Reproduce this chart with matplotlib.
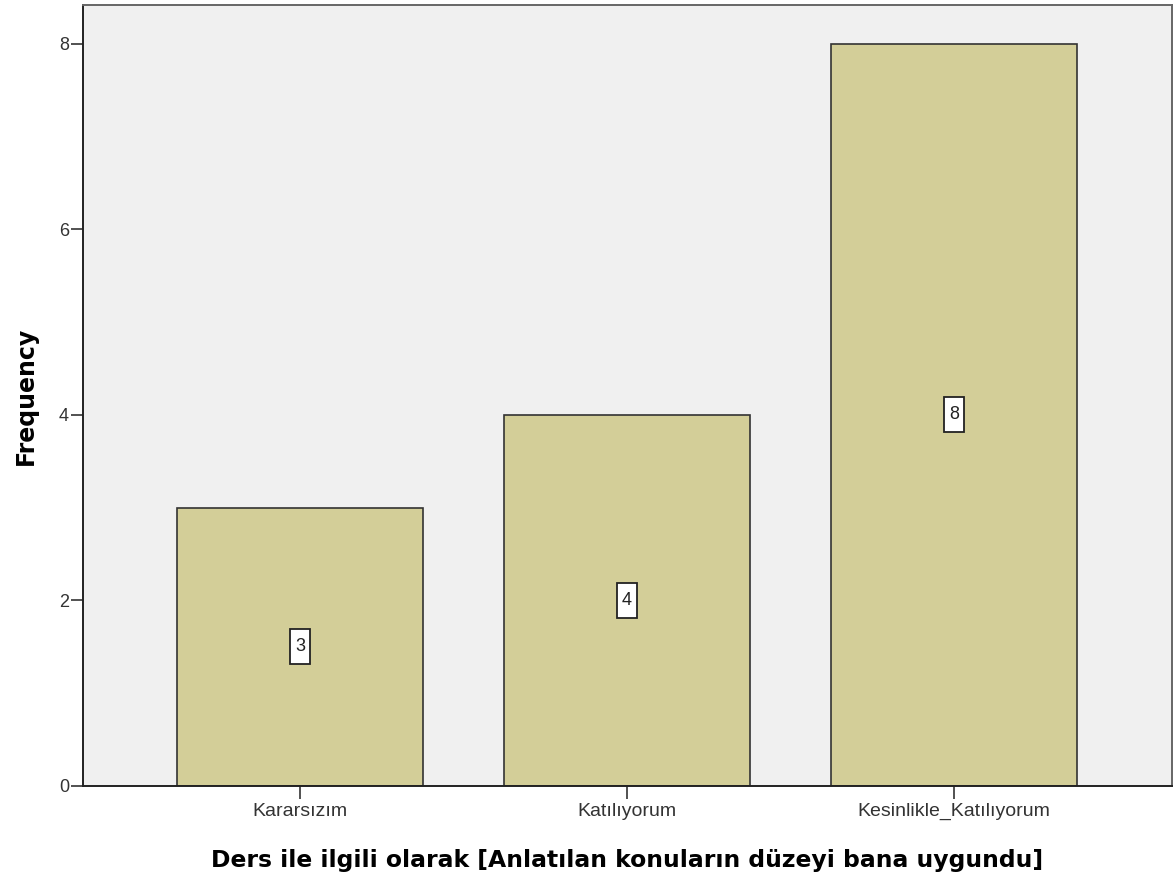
import matplotlib.pyplot as plt
from matplotlib.patches import Rectangle
from matplotlib.transforms import ScaledTranslation

categories = ["Kararsızım", "Katılıyorum", "Kesinlikle_Katılıyorum"]
counts = [3, 4, 8]
yticks = [0, 2, 4, 6, 8]

fig = plt.figure(figsize=(11.74, 8.83), dpi=100)
ax = fig.add_axes([0.0707, 0.1099, 0.9276, 0.8844])
ax.set_facecolor("#f0f0f0")

x = list(range(len(categories)))
ax.bar(x, counts, width=0.75, color="#d3ce98", edgecolor="#333333", linewidth=1.2, zorder=2)

# value labels in the middle of each bar, inside a tall white box
for xi, c in zip(x, counts):
    tr = fig.dpi_scale_trans + ScaledTranslation(xi, c / 2, ax.transData)
    ax.add_patch(Rectangle((-0.10, -0.175), 0.20, 0.35, transform=tr,
                           facecolor="white", edgecolor="#222222", linewidth=1.3, zorder=3))
    ax.text(xi, c / 2, str(c), ha="center", va="center", fontsize=13,
            family="Liberation Sans", color="#222222", zorder=4)

ax.set_xlim(-0.664, 2.667)
ax.set_ylim(0, 8.42)
ax.set_xticks(x)
ax.set_xticklabels(categories, fontsize=14, family="Liberation Sans", color="#333333")
ax.set_yticks(yticks)
ax.set_yticklabels([str(t) for t in yticks], fontsize=13, family="Liberation Sans", color="#333333")
ax.tick_params(axis="x", length=9, width=1.2, color="#333333", pad=3)
ax.tick_params(axis="y", length=9, width=1.2, color="#333333", pad=1)

for s in ["left", "bottom"]:
    ax.spines[s].set_color("#222222")
    ax.spines[s].set_linewidth(1.4)
for s in ["top", "right"]:
    ax.spines[s].set_color("#666666")
    ax.spines[s].set_linewidth(1.4)

ax.set_ylabel("Frequency", fontsize=17, fontweight="bold", va="center")
ax.yaxis.set_label_coords(-0.0523, 0.5)
ax.set_xlabel("Ders ile ilgili olarak [Anlatılan konuların düzeyi bana uygundu]",
              fontsize=16.9, fontweight="bold", va="baseline")
ax.xaxis.set_label_coords(0.5, -0.1037)

fig.savefig("out.png", dpi=100)
